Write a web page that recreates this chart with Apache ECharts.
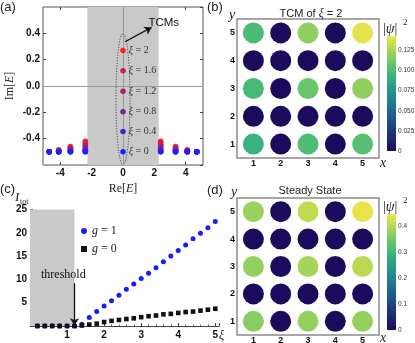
<!DOCTYPE html>
<html>
<head>
<meta charset="utf-8">
<script src="https://cdn.jsdelivr.net/npm/echarts@6/dist/echarts.min.js"></script>
<style>
html, body { margin: 0; padding: 0; background: #fff; }
#chart { width: 415px; height: 343px; }
</style>
</head>
<body>
<div id="chart"></div>
<script>
//---------------------------Data---------------------------
// (a) complex spectrum, TCM branch at Re[E]=0
const tcmXi = [0, 0.4, 0.8, 1.2, 1.6, 2];
const tcmIm = [-0.5, -0.345, -0.195, -0.04, 0.115, 0.27];
// (a) bulk modes (mirrored to negative Re[E])
const edgeXi = [0, 0.2, 0.4, 0.6, 0.8, 1.0, 1.2, 1.4, 1.6, 1.8, 2.0];
const edgeRe = [2.4, 3.35, 4.1, 4.7];
const edgeIm24 = [-0.5, -0.5, -0.495, -0.49, -0.48, -0.47, -0.46, -0.45, -0.44, -0.43, -0.42];
const edgeIm335 = [-0.5, -0.5, -0.5, -0.495, -0.49, -0.485, -0.48, -0.475, -0.47, -0.465, -0.46];
const edgeIm41 = [-0.5, -0.5, -0.5, -0.5, -0.5, -0.495, -0.495, -0.49, -0.49, -0.49, -0.485];
const edgeIm47 = [-0.5, -0.5, -0.5, -0.5, -0.5, -0.5, -0.5, -0.5, -0.5, -0.5, -0.5];
const edgeIm = [edgeIm24, edgeIm335, edgeIm41, edgeIm47];

// (b),(d) lattice sites, rows y = 1..5, columns x = 1..5
const sites = [1, 2, 3, 4, 5];
const tcmDensity = [
    [0.093, 0, 0.1015, 0, 0.104],
    [0, 0, 0, 0, 0],
    [0.098, 0, 0.109, 0, 0.119],
    [0, 0, 0, 0, 0],
    [0.100, 0, 0.119, 0, 0.140]
];
const steadyDensity = [
    [0.366, 0, 0.375, 0, 0.375],
    [0, 0, 0, 0, 0],
    [0.375, 0, 0.39, 0, 0.405],
    [0, 0, 0, 0, 0],
    [0.38, 0, 0.41, 0, 0.44]
];
const cbMaxB = 0.143;
const cbMaxD = 0.447;

// (c) total intensity vs xi
const xiC = [0.2, 0.4, 0.6, 0.8, 1.0, 1.2, 1.4, 1.6, 1.8, 2.0, 2.2, 2.4, 2.6, 2.8, 3.0, 3.2, 3.4, 3.6, 3.8, 4.0, 4.2, 4.4, 4.6, 4.8, 5.0];
const itotG1 = [0, 0, 0, 0, 0, 0, 0.4, 1.8, 3.1, 4.3, 5.4, 6.6, 7.9, 9.0, 10.2, 11.3, 12.5, 13.8, 15.0, 16.2, 17.4, 18.7, 19.9, 21.1, 22.4];
const itotG0 = [0, 0, 0, 0, 0, 0, 0.1, 0.3, 0.5, 0.85, 1.1, 1.3, 1.5, 1.65, 1.9, 2.1, 2.25, 2.5, 2.6, 2.8, 3.0, 3.1, 3.3, 3.5, 3.7];
const thresholdXi = 1.2;

//---------------------------Style---------------------------
const SANS = "'Liberation Sans', Arial, sans-serif";
const SERIF = "'Liberation Serif', 'DejaVu Serif', serif";
const bgyStops = ['#1c0b5c', '#1e2470', '#1e3f80', '#1f5a8c', '#1f7591', '#218f8e',
                  '#2ba685', '#4bbb76', '#7ccb64', '#b6d853', '#f2e64b'];

let chart = echarts.init(document.getElementById('chart'));

function tickFont(size) {
    return {fontFamily: SANS, fontWeight: 'bold', fontSize: size, color: '#111'};
}

function gradient() {
    return new echarts.graphic.LinearGradient(0, 1, 0, 0,
        bgyStops.map(function (c, i) { return {offset: i / (bgyStops.length - 1), color: c}; }));
}

function latticeData(density) {
    let out = [];
    for (let r = 0; r < sites.length; r++) {
        for (let c = 0; c < sites.length; c++) {
            out.push([sites[c], sites[r], density[r][c]]);
        }
    }
    return out;
}

function txt(text, x, y, extra) {
    return {
        type: 'text', x: x, y: y, silent: true,
        style: Object.assign({text: text, fontFamily: SANS, fontSize: 13, fill: '#222',
            align: 'left', verticalAlign: 'middle'}, extra || {})
    };
}

// (a) point lists
let edgeData = [];
for (let i = edgeXi.length - 1; i >= 0; i--) {
    for (let j = 0; j < edgeRe.length; j++) {
        edgeData.push([edgeRe[j], edgeIm[j][i], edgeXi[i]]);
        edgeData.push([-edgeRe[j], edgeIm[j][i], edgeXi[i]]);
    }
}
let tcmData = tcmXi.map(function (xi, i) { return [0, tcmIm[i], xi]; });

//---------------------------Option---------------------------
let latticeX = function (gi) {
    return {gridIndex: gi, type: 'value', min: 0.4, max: 5.6,
        axisLine: {show: false}, axisTick: {show: false}, splitLine: {show: false},
        axisLabel: Object.assign(tickFont(9), {margin: 1, customValues: sites})};
};
let latticeY = function (gi) {
    return {gridIndex: gi, type: 'value', min: 0.5, max: 5.5,
        axisLine: {show: false}, axisTick: {show: false}, splitLine: {show: false},
        axisLabel: Object.assign(tickFont(9), {margin: 2, customValues: sites})};
};
let cbarX = function (gi) {
    return {gridIndex: gi, type: 'category', data: [''], show: false};
};
let cbarY = function (gi, max, step, digits) {
    return {gridIndex: gi, type: 'value', min: 0, max: max, interval: step, position: 'right',
        axisLine: {show: false}, axisTick: {show: false}, splitLine: {show: false},
        axisLabel: {fontFamily: SANS, fontSize: 6.5, color: '#333', margin: 2, showMaxLabel: false,
            formatter: function (v) { return v === 0 ? '0' : v.toFixed(digits); }}};
};
let frameTick = {show: true, inside: true, length: 3, lineStyle: {color: '#444'}};

let option = {
    animation: false,
    backgroundColor: '#fff',
    grid: [
        {left: 43, top: 7, width: 160, height: 158, show: true, borderColor: '#555', borderWidth: 1, outerBoundsMode: 'none'},
        {left: 237, top: 19, width: 142, height: 139, show: true, borderColor: '#8a8a8a', borderWidth: 1.5, outerBoundsMode: 'none'},
        {left: 387, top: 36, width: 9, height: 115, outerBoundsMode: 'none'},
        {left: 30, top: 209.5, width: 189, height: 116.5, outerBoundsMode: 'none'},
        {left: 237, top: 198, width: 142, height: 137, show: true, borderColor: '#8a8a8a', borderWidth: 1.5, outerBoundsMode: 'none'},
        {left: 387, top: 214, width: 9, height: 116, outerBoundsMode: 'none'}
    ],
    xAxis: [
        {gridIndex: 0, type: 'value', min: -5.1, max: 5.1,
            axisLine: {show: false, onZero: false}, splitLine: {show: false},
            axisTick: Object.assign({customValues: [-4, -2, 0, 2, 4]}, frameTick),
            axisLabel: Object.assign(tickFont(10), {margin: 3, customValues: [-4, -2, 0, 2, 4]}),
            name: 'Re[{i|E}]', nameLocation: 'middle', nameGap: 18,
            nameTextStyle: {fontFamily: SERIF, fontSize: 12, color: '#222',
                rich: {i: {fontFamily: SERIF, fontStyle: 'italic', fontSize: 12, color: '#222'}}}},
        {gridIndex: 0, type: 'value', min: -5.1, max: 5.1, position: 'top',
            axisLine: {show: false, onZero: false}, splitLine: {show: false}, axisLabel: {show: false},
            axisTick: Object.assign({customValues: [-4, -2, 0, 2, 4]}, frameTick)},
        latticeX(1),
        cbarX(2),
        {gridIndex: 3, type: 'value', min: 0, max: 5.1, interval: 1,
            axisLine: {show: true, onZero: false, lineStyle: {color: '#444', width: 1}},
            axisTick: frameTick,
            minorTick: {show: true, splitNumber: 5, length: 1.5, lineStyle: {color: '#666'}},
            splitLine: {show: false},
            axisLabel: Object.assign(tickFont(10), {margin: 4, showMaxLabel: false,
                formatter: function (v) { return v === 0 ? '' : String(v); }})},
        latticeX(4),
        cbarX(5)
    ],
    yAxis: [
        {gridIndex: 0, type: 'value', min: -0.6, max: 0.6, interval: 0.2,
            axisLine: {show: false, onZero: false}, splitLine: {show: false},
            axisTick: frameTick,
            axisLabel: Object.assign(tickFont(10), {margin: 3, showMinLabel: false, showMaxLabel: false,
                formatter: function (v) { return Math.abs(v) < 1e-9 ? '0.0' : v.toFixed(1); }}),
            name: 'Im[{i|E}]', nameLocation: 'middle', nameGap: 27,
            nameTextStyle: {fontFamily: SERIF, fontSize: 12, color: '#222',
                rich: {i: {fontFamily: SERIF, fontStyle: 'italic', fontSize: 12, color: '#222'}}}},
        {gridIndex: 0, type: 'value', min: -0.6, max: 0.6, interval: 0.2, position: 'right',
            axisLine: {show: false, onZero: false}, splitLine: {show: false}, axisLabel: {show: false},
            axisTick: frameTick},
        latticeY(1),
        cbarY(2, cbMaxB, 0.025, 3),
        {gridIndex: 3, type: 'value', min: 0, max: 25, interval: 5,
            axisLine: {show: true, onZero: false, lineStyle: {color: '#444', width: 1}},
            axisTick: frameTick,
            minorTick: {show: true, splitNumber: 5, length: 1.5, lineStyle: {color: '#666'}},
            splitLine: {show: false},
            axisLabel: Object.assign(tickFont(10), {margin: 3,
                formatter: function (v) { return v === 0 ? '' : String(v); }})},
        latticeY(4),
        cbarY(5, cbMaxD, 0.1, 1)
    ],
    visualMap: [
        {type: 'continuous', show: false, seriesIndex: [3, 4], dimension: 2, min: 0, max: 2,
            inRange: {color: ['#1f1fff', '#ff1f1f']}},
        {type: 'continuous', show: false, seriesIndex: 6, dimension: 2, min: 0, max: cbMaxB,
            inRange: {color: bgyStops}},
        {type: 'continuous', show: false, seriesIndex: 11, dimension: 2, min: 0, max: cbMaxD,
            inRange: {color: bgyStops}}
    ],
    legend: {
        left: 81, top: 225, orient: 'vertical', itemWidth: 6, itemHeight: 6, itemGap: 6, padding: 0,
        data: ['g1', 'g0'],
        formatter: function (name) { return name === 'g1' ? '{i|g} = 1' : '{i|g} = 0'; },
        textStyle: {fontFamily: SERIF, fontSize: 12, color: '#222',
            rich: {i: {fontFamily: SERIF, fontStyle: 'italic', fontSize: 12, color: '#222'}}}
    },
    series: [
        // 0: (a) shaded band
        {type: 'scatter', xAxisIndex: 0, yAxisIndex: 0, data: [], z: 1, silent: true,
            markArea: {silent: true, itemStyle: {color: '#c9c9c9'}, data: [[{xAxis: -2.27}, {xAxis: 2.27}]]}},
        // 1: (a) zero lines
        {type: 'scatter', xAxisIndex: 0, yAxisIndex: 0, data: [], z: 2, silent: true,
            markLine: {silent: true, symbol: 'none', label: {show: false},
                lineStyle: {color: '#9a9a9a', width: 1, type: 'solid'},
                data: [{xAxis: 0}, {yAxis: 0}]}},
        // 2: (a) dotted ellipse round the TCM branch
        {type: 'custom', xAxisIndex: 0, yAxisIndex: 0, z: 3, silent: true,
            data: [[0, -0.1, 0.45, 0.5]],
            renderItem: function (params, api) {
                let c = api.coord([api.value(0), api.value(1)]);
                let s = api.size([api.value(2), api.value(3)]);
                return {type: 'ellipse', shape: {cx: c[0], cy: c[1], rx: s[0], ry: s[1]},
                    style: {fill: 'none', stroke: '#333', lineWidth: 0.8, lineDash: [1.2, 1.5]}};
            }},
        // 3: (a) bulk modes
        {type: 'scatter', xAxisIndex: 0, yAxisIndex: 0, z: 5, symbolSize: 5.5, data: edgeData, silent: true,
            itemStyle: {opacity: 1}},
        // 4: (a) TCMs
        {type: 'scatter', xAxisIndex: 0, yAxisIndex: 0, z: 6, symbolSize: 5.5, data: tcmData, silent: true,
            itemStyle: {opacity: 1},
            label: {show: true, position: 'right', distance: 3, color: '#333',
                fontFamily: SERIF, fontSize: 10,
                formatter: function (p) { return '{i|\u03be} = ' + p.value[2]; },
                rich: {i: {fontFamily: SERIF, fontStyle: 'italic', fontSize: 10, color: '#333'}}}},
        // 5: (a) TCMs arrow and text
        {type: 'scatter', xAxisIndex: 0, yAxisIndex: 0, data: [], z: 7, silent: true,
            markLine: {silent: true, symbol: ['none', 'arrow'], symbolSize: 7, label: {show: false},
                lineStyle: {color: '#111', width: 1.3, type: 'solid'},
                data: [[{coord: [0.13, 0.336]}, {coord: [1.82, 0.445]}]]},
            markPoint: {silent: true, symbol: 'circle', symbolSize: 1, itemStyle: {color: 'transparent'},
                label: {show: true, position: 'inside', formatter: 'TCMs', fontFamily: SANS, fontSize: 11.5, color: '#111'},
                data: [{coord: [2.6, 0.483]}]}},
        // 6: (b) TCM density
        {type: 'scatter', xAxisIndex: 2, yAxisIndex: 2, z: 3, symbolSize: 21, silent: true,
            itemStyle: {opacity: 1}, data: latticeData(tcmDensity)},
        // 7: (b) colour bar
        {type: 'bar', xAxisIndex: 3, yAxisIndex: 3, barWidth: '100%', silent: true,
            itemStyle: {color: gradient()}, data: [cbMaxB]},
        // 8: (c) g = 1
        {name: 'g1', type: 'scatter', xAxisIndex: 4, yAxisIndex: 4, z: 4, symbol: 'circle', symbolSize: 5,
            itemStyle: {color: '#1a1aff', opacity: 1}, silent: true,
            data: xiC.map(function (x, i) { return [x, itotG1[i]]; })},
        // 9: (c) g = 0
        {name: 'g0', type: 'scatter', xAxisIndex: 4, yAxisIndex: 4, z: 5, symbol: 'rect', symbolSize: 4.6,
            itemStyle: {color: '#111', opacity: 1}, silent: true,
            data: xiC.map(function (x, i) { return [x, itotG0[i]]; })},
        // 10: (c) threshold band, arrow, text
        {type: 'scatter', xAxisIndex: 4, yAxisIndex: 4, data: [], z: 1, silent: true,
            markArea: {silent: true, itemStyle: {color: '#c9c9c9'},
                data: [[{coord: [0, 0]}, {coord: [thresholdXi, 25]}]]},
            markLine: {silent: true, symbol: ['none', 'arrow'], symbolSize: 7, label: {show: false},
                lineStyle: {color: '#111', width: 1.3, type: 'solid'},
                data: [[{coord: [thresholdXi, 9.2]}, {coord: [thresholdXi, 0.15]}]]},
            markPoint: {silent: true, symbol: 'circle', symbolSize: 1, itemStyle: {color: 'transparent'},
                label: {show: true, position: 'inside', formatter: 'threshold', fontFamily: SERIF, fontSize: 12, color: '#111'},
                data: [{coord: [0.9, 10.9]}]}},
        // 11: (d) steady state density
        {type: 'scatter', xAxisIndex: 5, yAxisIndex: 5, z: 3, symbolSize: 21, silent: true,
            itemStyle: {opacity: 1}, data: latticeData(steadyDensity)},
        // 12: (d) colour bar
        {type: 'bar', xAxisIndex: 6, yAxisIndex: 6, barWidth: '100%', silent: true,
            itemStyle: {color: gradient()}, data: [cbMaxD]}
    ],
    graphic: [
        txt('(a)', 0, 7),
        txt('(b)', 207, 7),
        txt('(c)', 0, 189),
        txt('(d)', 207, 190),
        txt('TCM of {i|\u03be} = 2', 311, 13.5, {align: 'center', fontSize: 11,
            rich: {i: {fontFamily: SERIF, fontStyle: 'italic', fontSize: 12, fill: '#222'}}}),
        txt('Steady State', 310, 191, {align: 'center', fontSize: 11}),
        txt('y', 232, 15, {align: 'center', fontFamily: SERIF, fontStyle: 'italic', fontSize: 14}),
        txt('y', 234, 192, {align: 'center', fontFamily: SERIF, fontStyle: 'italic', fontSize: 14}),
        txt('x', 383, 163, {align: 'center', fontFamily: SERIF, fontStyle: 'italic', fontSize: 14}),
        txt('x', 383, 338, {align: 'center', fontFamily: SERIF, fontStyle: 'italic', fontSize: 14}),
        txt('|{i|\u03c8}|', 383, 29, {fontFamily: SERIF, fontSize: 14,
            rich: {i: {fontFamily: SERIF, fontStyle: 'italic', fontSize: 14, fill: '#222'}}}),
        txt('2', 403, 23, {fontFamily: SERIF, fontSize: 9}),
        txt('|{i|\u03c8}|', 383, 207, {fontFamily: SERIF, fontSize: 14,
            rich: {i: {fontFamily: SERIF, fontStyle: 'italic', fontSize: 14, fill: '#222'}}}),
        txt('2', 403, 201, {fontFamily: SERIF, fontSize: 9}),
        txt('I', 15, 198, {fontFamily: SERIF, fontStyle: 'italic', fontSize: 13}),
        txt('tot', 20, 201.5, {fontFamily: SERIF, fontSize: 8}),
        txt('\u03be', 219, 336, {fontFamily: SERIF, fontStyle: 'italic', fontSize: 12})
    ]
};

chart.setOption(option);
window.onresize = function () {
    chart.resize();
};
</script>
</body>
</html>
